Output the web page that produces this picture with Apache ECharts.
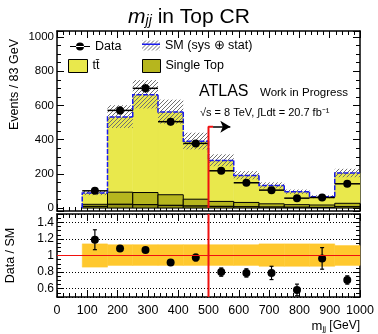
<!DOCTYPE html>
<html>
<head>
<meta charset="utf-8">
<script src="https://cdn.jsdelivr.net/npm/echarts@6/dist/echarts.min.js"></script>
<style>
html, body { margin: 0; padding: 0; background: #fff; }
#chart { width: 378px; height: 334px; }
</style>
</head>
<body>
<div id="chart"></div>
<script>
// bin edges of the m_jj histogram (GeV), 83 GeV bins; first bin (0-83) is empty
const binEdges = [83.3, 166.7, 250, 333.3, 416.7, 500, 583.3, 666.7, 750, 833.3, 916.7, 1000];
const binCentres = [125, 208, 292, 375, 458, 542, 625, 708, 792, 875, 958];

// top panel: events per bin
const dataCounts = [101, 571, 700, 505, 378, 218, 148, 105, 58, 62, 142];
const dataErr = [10, 24, 26, 22, 19, 15, 12, 10, 8, 8, 12];
const ttbar = [66, 439, 571, 483, 338, 239, 158, 107, 75, 48, 177];
const singleTop = [12, 71, 71, 62, 40, 29, 25, 19, 15, 14, 20];
const otherBkg = [10, 22, 20, 16, 12, 10, 8, 6, 5, 4, 8];

// bottom panel: data / SM
const ratio = [1.19, 1.085, 1.065, 0.915, 0.975, 0.80, 0.79, 0.79, 0.585, 0.965, 0.705];
const ratioErr = [0.12, 0.03, 0.025, 0.02, 0.04, 0.05, 0.05, 0.08, 0.07, 0.13, 0.05];
const bandUp = [1.14, 1.13, 1.13, 1.13, 1.13, 1.13, 1.13, 1.14, 1.14, 1.14, 1.12];
const bandDown = [0.86, 0.88, 0.88, 0.88, 0.88, 0.88, 0.88, 0.87, 0.87, 0.87, 0.88];

// cut line / arrow
const cutValue = 500;
const cutTop = 475;
const arrowEnd = 572;

const xTicks = { min: 0, max: 1000, interval: 100 };
const topY = { min: -17, max: 1035 };
const ratioY = { min: 0.5, max: 1.5 };

const FONT = 'Liberation Sans';
const YELLOW = '#e9e84c';
const OLIVE = '#b6b61e';
const DARK = '#8e8e12';

// hatch pattern for the SM uncertainty
const hatch = document.createElement('canvas');
hatch.width = 4; hatch.height = 4;
(function () {
    const c = hatch.getContext('2d');
    c.strokeStyle = '#707070';
    c.lineWidth = 1;
    c.beginPath();
    c.moveTo(-1, 5); c.lineTo(5, -1);
    c.moveTo(-1, 1); c.lineTo(1, -1);
    c.moveTo(3, 5); c.lineTo(5, 3);
    c.stroke();
})();
const hatchFill = { image: hatch, repeat: 'repeat' };

const otherBase = otherBkg.map(() => 0);
const stBase = otherBkg.slice();
const ttBase = otherBkg.map((v, i) => v + singleTop[i]);
const smTotal = ttBase.map((v, i) => v + ttbar[i]);

function stackSeries(name, values, bases, fill, stroke) {
    return {
        name: name,
        type: 'custom',
        xAxisIndex: 0, yAxisIndex: 0,
        itemStyle: { color: fill },
        encode: { x: [0, 1], y: [2, 3] },
        data: values.map((v, i) => [binEdges[i], binEdges[i + 1], bases[i], bases[i] + v]),
        renderItem: (params, api) => {
            const a = api.coord([api.value(0), api.value(3)]);
            const b = api.coord([api.value(1), api.value(2)]);
            return {
                type: 'rect',
                shape: { x: a[0], y: a[1], width: b[0] - a[0], height: b[1] - a[1] },
                style: { fill: fill, stroke: stroke || fill, lineWidth: stroke ? 1 : 0.5 }
            };
        }
    };
}

function axisBase(extra) {
    return Object.assign({
        axisLine: { show: true, onZero: false, lineStyle: { color: '#000', width: 1.5 } },
        axisTick: { show: true, inside: true, length: 7, lineStyle: { color: '#000' } },
        minorTick: { show: true, length: 4, lineStyle: { color: '#000' } },
        splitLine: { show: false },
        axisLabel: { show: false }
    }, extra);
}

const labelStyle = { show: true, color: '#000', fontFamily: FONT, fontSize: 12.5, hideOverlap: false, formatter: v => String(v) };

const chart = echarts.init(document.getElementById('chart'));
chart.setOption({
    animation: false,
    title: {
        text: '{m|m}{s|jj}{t| in Top CR}',
        left: 'center', top: 1,
        textStyle: {
            rich: {
                m: { fontFamily: FONT, fontSize: 21, fontStyle: 'italic', fontWeight: 'normal', color: '#000' },
                s: { fontFamily: FONT, fontSize: 14, fontStyle: 'italic', fontWeight: 'normal', color: '#000', padding: [8, 0, 0, 0] },
                t: { fontFamily: FONT, fontSize: 21, fontWeight: 'normal', color: '#000' }
            }
        }
    },
    legend: [
        { data: ['Data'], left: 70, top: 40, padding: 0, itemWidth: 20, itemHeight: 8, selectedMode: false,
          icon: 'path://M0,3.4h20v1.2h-20z M6,4a4,4 0 1,0 8,0a4,4 0 1,0 -8,0z',
          textStyle: { fontFamily: FONT, fontSize: 12.5, color: '#000' } },
        { data: ['tt\u0304'], left: 68, top: 59, padding: 0, itemWidth: 19, itemHeight: 13, selectedMode: false,
          icon: 'rect', itemStyle: { borderColor: '#000', borderWidth: 1 },
          textStyle: { fontFamily: FONT, fontSize: 12.5, color: '#000' } },
        { data: ['SM (sys \u2295 stat)'], left: 142, top: 39, padding: 0, itemWidth: 18, itemHeight: 10, selectedMode: false,
          icon: 'rect',
          textStyle: { fontFamily: FONT, fontSize: 12.5, color: '#000' } },
        { data: ['Single Top'], left: 142, top: 59, padding: 0, itemWidth: 18, itemHeight: 13, selectedMode: false,
          icon: 'rect', itemStyle: { borderColor: '#000', borderWidth: 1 },
          textStyle: { fontFamily: FONT, fontSize: 12.5, color: '#000' } }
    ],
    graphic: [
        { type: 'rect', left: 142, top: 43.5, shape: { width: 18, height: 1.5 }, style: { fill: '#1a1aee' }, z: 100 },
        { type: 'text', left: 199, top: 84, style: { text: 'ATLAS', font: '16px "Liberation Sans"', fill: '#000' } },
        { type: 'text', left: 260, top: 87, style: { text: 'Work in Progress', font: '11.5px "Liberation Sans"', fill: '#000' } },
        { type: 'text', left: 200, top: 107, style: { text: '\u221As = 8 TeV, \u222BLdt = 20.7 fb\u207B\u00B9', font: '11px "Liberation Sans"', fill: '#000' } }
    ],
    grid: [
        { left: 57, right: 18, top: 31, height: 180, outerBoundsMode: 'none', containLabel: false },
        { left: 57, right: 18, top: 214, height: 83, outerBoundsMode: 'none', containLabel: false }
    ],
    xAxis: [
        axisBase({ type: 'value', gridIndex: 0, position: 'bottom', min: xTicks.min, max: xTicks.max, interval: xTicks.interval, minorTick: { show: true, splitNumber: 5, length: 4 } }),
        axisBase({ type: 'value', gridIndex: 0, position: 'top', min: xTicks.min, max: xTicks.max, interval: xTicks.interval, minorTick: { show: true, splitNumber: 5, length: 4 } }),
        axisBase({ type: 'value', gridIndex: 1, position: 'bottom', min: xTicks.min, max: xTicks.max, interval: xTicks.interval,
            minorTick: { show: true, splitNumber: 5, length: 4 },
            axisLabel: Object.assign({}, labelStyle, { margin: 7 }),
            name: '{m|m}{s|jj} [GeV]', nameLocation: 'end', nameGap: 0,
            nameTextStyle: {
                align: 'right', verticalAlign: 'top', padding: [22, 0, 0, 0],
                rich: {
                    m: { fontFamily: FONT, fontSize: 13, color: '#000' },
                    s: { fontFamily: FONT, fontSize: 8, color: '#000', padding: [6, 0, 0, 0] }
                }
            } }),
        axisBase({ type: 'value', gridIndex: 1, position: 'top', min: xTicks.min, max: xTicks.max, interval: xTicks.interval, minorTick: { show: true, splitNumber: 5, length: 4 } })
    ],
    yAxis: [
        axisBase({ type: 'value', gridIndex: 0, position: 'left', min: topY.min, max: topY.max, splitNumber: 5,
            minorTick: { show: true, splitNumber: 4, length: 4 },
            axisLabel: Object.assign({}, labelStyle, { fontSize: 11.5, margin: 3, showMinLabel: false, showMaxLabel: false }),
            name: 'Events / 83 GeV', nameLocation: 'end', nameGap: -8, nameRotate: 90,
            nameTextStyle: { fontFamily: FONT, fontSize: 12.5, color: '#000', align: 'right', verticalAlign: 'bottom', padding: [0, 0, 36, 0] } }),
        axisBase({ type: 'value', gridIndex: 0, position: 'right', min: topY.min, max: topY.max, splitNumber: 5, minorTick: { show: true, splitNumber: 4, length: 4 } }),
        axisBase({ type: 'value', gridIndex: 1, position: 'left', min: ratioY.min, max: ratioY.max, splitNumber: 5,
            minorTick: { show: true, splitNumber: 4, length: 4 },
            splitLine: { show: true, lineStyle: { color: '#000', type: [1, 2], width: 1 } },
            axisLabel: Object.assign({}, labelStyle, { fontSize: 12, margin: 3, showMinLabel: false, showMaxLabel: false }),
            name: 'Data / SM', nameLocation: 'middle', nameGap: 40,
            nameTextStyle: { fontFamily: FONT, fontSize: 12.5, color: '#000' } }),
        axisBase({ type: 'value', gridIndex: 1, position: 'right', min: ratioY.min, max: ratioY.max, splitNumber: 5, minorTick: { show: true, splitNumber: 4, length: 4 } })
    ],
    series: [
        stackSeries('tt\u0304', ttbar, ttBase, YELLOW),
        stackSeries('Single Top', singleTop, stBase, OLIVE, '#000'),
        stackSeries('Other', otherBkg, otherBase, DARK, '#000'),
        {
            name: 'SM (sys \u2295 stat)',
            type: 'custom', xAxisIndex: 0, yAxisIndex: 0,
            itemStyle: { color: hatchFill },
            encode: { x: [0, 1], y: [2, 3] },
            data: smTotal.map((v, i) => [binEdges[i], binEdges[i + 1], v * bandDown[i], v * bandUp[i]]),
            renderItem: (params, api) => {
                const a = api.coord([api.value(0), api.value(3)]);
                const b = api.coord([api.value(1), api.value(2)]);
                return { type: 'rect', shape: { x: a[0], y: a[1], width: b[0] - a[0], height: b[1] - a[1] }, style: { fill: hatchFill } };
            }
        },
        {
            name: 'SM line',
            type: 'custom', xAxisIndex: 0, yAxisIndex: 0,
            encode: { x: [0, 1], y: [2, 3] },
            data: smTotal.map((v, i) => [binEdges[i], binEdges[i + 1], i > 0 ? smTotal[i - 1] : 0, v]),
            renderItem: (params, api) => {
                const p0 = api.coord([api.value(0), api.value(2)]);
                const p1 = api.coord([api.value(0), api.value(3)]);
                const p2 = api.coord([api.value(1), api.value(3)]);
                return { type: 'polyline', shape: { points: [p0, p1, p2] }, style: { stroke: '#1a1aee', lineWidth: 1.5, fill: null, lineDash: [5, 1.5] } };
            }
        },
        {
            name: 'Cut',
            type: 'line', xAxisIndex: 0, yAxisIndex: 0,
            symbol: 'none', clip: false,
            lineStyle: { color: '#f01010', width: 2 },
            data: [[cutValue, 0], [cutValue, cutTop], [cutValue + 15, cutTop]],
            markLine: {
                silent: true, symbol: ['none', 'arrow'], symbolSize: [9, 10],
                label: { show: false },
                lineStyle: { color: '#000', width: 1.5, type: 'solid' },
                data: [[{ coord: [cutValue + 15, cutTop] }, { coord: [arrowEnd, cutTop] }]]
            }
        },
        {
            name: 'Data',
            type: 'custom', xAxisIndex: 0, yAxisIndex: 0,
            itemStyle: { color: '#000' },
            encode: { x: 0, y: 1 },
            data: dataCounts.map((v, i) => [binCentres[i], v, dataErr[i], binEdges[i], binEdges[i + 1]]),
            renderItem: (params, api) => {
                const c = api.coord([api.value(0), api.value(1)]);
                const lo = api.coord([api.value(3), api.value(1)]);
                const hi = api.coord([api.value(4), api.value(1)]);
                const up = api.coord([api.value(0), api.value(1) + api.value(2)]);
                const dn = api.coord([api.value(0), api.value(1) - api.value(2)]);
                return {
                    type: 'group',
                    children: [
                        { type: 'line', shape: { x1: lo[0], y1: lo[1], x2: hi[0], y2: hi[1] }, style: { stroke: '#000', lineWidth: 1.5 } },
                        { type: 'line', shape: { x1: up[0], y1: up[1], x2: dn[0], y2: dn[1] }, style: { stroke: '#000', lineWidth: 1.5 } },
                        { type: 'circle', shape: { cx: c[0], cy: c[1], r: 4 }, style: { fill: '#000' } }
                    ]
                };
            }
        },
        // ratio panel
        {
            name: 'Band',
            type: 'custom', xAxisIndex: 2, yAxisIndex: 2,
            encode: { x: [0, 1], y: [2, 3] },
            data: bandUp.map((v, i) => [binEdges[i], binEdges[i + 1], bandDown[i], v]),
            renderItem: (params, api) => {
                const a = api.coord([api.value(0), api.value(3)]);
                const b = api.coord([api.value(1), api.value(2)]);
                return { type: 'rect', shape: { x: a[0], y: a[1], width: b[0] - a[0], height: b[1] - a[1] }, style: { fill: '#ffc82e', stroke: '#ffc82e', lineWidth: 0.5 } };
            }
        },
        {
            name: 'Unity',
            type: 'line', xAxisIndex: 2, yAxisIndex: 2, symbol: 'none',
            lineStyle: { color: '#f01010', width: 1.2 },
            data: [[xTicks.min, 1], [xTicks.max, 1]]
        },
        {
            name: 'Cut ratio',
            type: 'line', xAxisIndex: 2, yAxisIndex: 2, symbol: 'none',
            lineStyle: { color: '#f01010', width: 2 },
            data: [[cutValue, ratioY.min], [cutValue, ratioY.max]]
        },
        {
            name: 'Ratio',
            type: 'custom', xAxisIndex: 2, yAxisIndex: 2,
            encode: { x: 0, y: 1 },
            data: ratio.map((v, i) => [binCentres[i], v, ratioErr[i]]),
            renderItem: (params, api) => {
                const c = api.coord([api.value(0), api.value(1)]);
                const up = api.coord([api.value(0), api.value(1) + api.value(2)]);
                const dn = api.coord([api.value(0), api.value(1) - api.value(2)]);
                return {
                    type: 'group',
                    children: [
                        { type: 'line', shape: { x1: up[0], y1: up[1], x2: dn[0], y2: dn[1] }, style: { stroke: '#000', lineWidth: 1.2 } },
                        { type: 'line', shape: { x1: up[0] - 2, y1: up[1], x2: up[0] + 2, y2: up[1] }, style: { stroke: '#000', lineWidth: 1.2 } },
                        { type: 'line', shape: { x1: dn[0] - 2, y1: dn[1], x2: dn[0] + 2, y2: dn[1] }, style: { stroke: '#000', lineWidth: 1.2 } },
                        { type: 'circle', shape: { cx: c[0], cy: c[1], r: 4 }, style: { fill: '#000' } }
                    ]
                };
            }
        }
    ]
});

window.addEventListener('resize', () => chart.resize());
</script>
</body>
</html>
